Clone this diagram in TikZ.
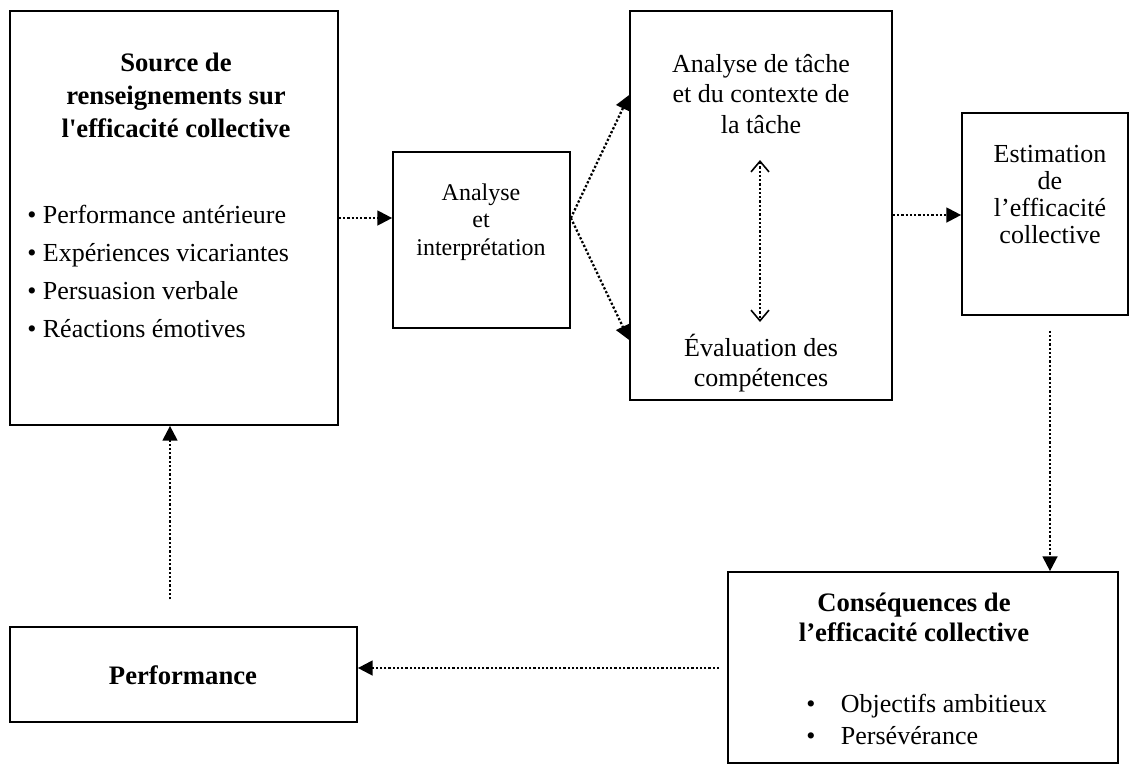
\documentclass[tikz,border=0pt]{standalone}
\usepackage{fontspec}
\setmainfont{Liberation Serif}
\usetikzlibrary{arrows.meta,positioning,calc,fit}

\begin{document}
\begin{tikzpicture}[x=0.75pt,y=-0.75pt,
  b/.style={draw,line width=1.3pt,inner sep=0pt},
  t/.style={align=center,inner sep=0pt,font=\fontsize{19.5}{20.5}\selectfont},
  h/.style={t,font=\fontsize{20}{24.75}\selectfont\bfseries},
  a/.style={line width=1.7pt,dash pattern=on 1.7pt off 1.5pt,-{Triangle[length=11pt,width=11pt]}},
  v/.style={line width=1.7pt,dash pattern=on 1.7pt off 1.5pt,
            {Straight Barb[length=8pt,width=13.5pt,line width=1.2pt]}-{Straight Barb[length=8pt,width=13.5pt,line width=1.2pt]}}]
 \useasboundingbox (0,0) rectangle (1137,765);
 % sources
 \node[b,fit={(10,11) (338,425)}] (src) {};
 \node[h] (srch) at (176,95) {Source de\\ renseignements sur\\ l\textquotesingle efficacité collective};
 \node[t,align=left,anchor=west,font=\fontsize{19.5}{28.5}\selectfont] (srcl) at (27,271)
   {\textbullet{} Performance antérieure\\ \textbullet{} Expériences vicariantes\\
    \textbullet{} Persuasion verbale\\ \textbullet{} Réactions émotives};
 % analyse
 \node[b,fit={(393,152) (570,328)}] (ana) {};
 \node[t,font=\fontsize{18}{20.6}\selectfont] (anat) at (481,222) {Analyse\\ et\\ interprétation};
 \node[b,fit={(630,11) (892,400)}] (big) {};
 \node[t,font=\fontsize{19.5}{23}\selectfont] (tache) at (761,94) {Analyse de tâche\\ et du contexte de\\ la tâche};
 \node[t,font=\fontsize{19.5}{23}\selectfont] (eval) at (761,363) {Évaluation des\\ compétences};
 \coordinate (vt) at (760,160);
 \coordinate (vb) at (760,322);
 % estimation + consequences
 \node[b,fit={(962,113) (1128,315)}] (est) {};
 \node[t,font=\fontsize{19.5}{20.25}\selectfont] (estt) at (1050,195) {Estimation\\ de\\ l’efficacité\\ collective};
 \node[b,fit={(728,572) (1118,763)}] (cons) {};
 \node[h,font=\fontsize{20}{22.5}\selectfont\bfseries] (consh) at (914,617) {Conséquences de\\ l’efficacité collective};
 \node[t,align=left,anchor=west,font=\fontsize{19.5}{24}\selectfont] (consl) at (806,719)
   {\makebox[26pt][l]{\textbullet}Objectifs ambitieux\\ \makebox[26pt][l]{\textbullet}Persévérance};
 \node[b,fit={(10,627) (357,722)}] (perf) {};
 \node[h] (perft) at (183,675) {Performance};
 % arrows
 \coordinate (fk) at (ana.east |- src.east);
 \draw[a] (src.east) -- (ana.west |- src.east);
 \draw[a] (fk) -- (big.west |- 0,95);
 \draw[a] (fk) -- (big.west |- 0,340);
 \draw[v] (vt) -- (vb);
 \draw[a] (big.east |- 0,215) -- (est.west |- 0,215);
 \draw[a,shorten <=11pt] (est.south -| 1050,0) -- (cons.north -| 1050,0);
 \draw[a,shorten <=6pt] (cons.west |- 0,668) -- (perf.east |- 0,668);
 \draw[a,shorten <=20pt] (perf.north -| 170,0) -- (src.south -| 170,0);
\end{tikzpicture}
\end{document}
